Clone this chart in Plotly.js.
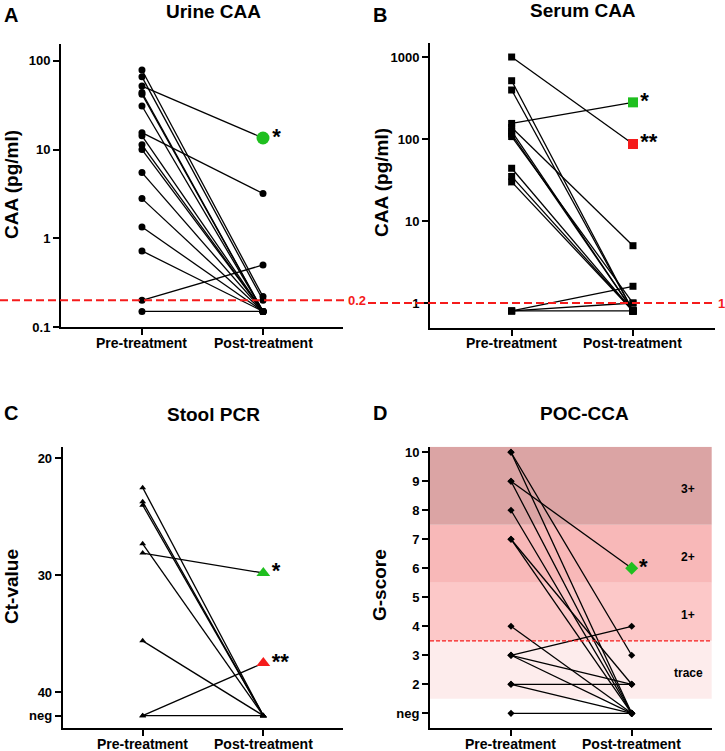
<!DOCTYPE html>
<html><head><meta charset="utf-8">
<script src="https://cdn.plot.ly/plotly-3.0.1.min.js"></script>
<style>html,body{margin:0;padding:0;background:#fff}</style>
</head><body><div id="chart" style="width:725px;height:751px"></div>
<script>
// ---------- DATA ----------
const groups = ["Pre-treatment", "Post-treatment"];

// A: Urine CAA (pg/ml)
const urinePre  = [79, 66, 52, 44, 42, 31, 15.5, 14.3, 11.3, 10, 5.5, 2.8, 1.34, 0.72, 0.2, 0.15];
const urinePost = [0.22, 0.2, 13.5, 0.15, 0.15, 0.15, 3.2, 0.15, 0.15, 0.15, 0.15, 0.15, 0.15, 0.15, 0.5, 0.15];
const urineStar = ["", "", "*", "", "", "", "", "", "", "", "", "", "", "", "", ""];
const urineCutoff = 0.2;
const urineTicks = [0.1, 1, 10, 100];
const urineTickText = ["0.1", "1", "10", "100"];

// B: Serum CAA (pg/ml)
const serumPre  = [1000, 514, 396, 155, 138, 125, 115, 107, 44, 35, 30, 0.8, 0.8, 0.8];
const serumPost = [87, 0.8, 0.8, 280, 5, 0.8, 0.8, 1.0, 0.8, 0.8, 0.8, 1.6, 1.0, 0.8];
const serumStar = ["**", "", "", "*", "", "", "", "", "", "", "", "", "", ""];
const serumCutoff = 1;
const serumTicks = [1, 10, 100, 1000];
const serumTickText = ["1", "10", "100", "1000"];

// C: Stool PCR (Ct-value), 42 = neg
const pcrPre  = [22.5, 23.7, 24.0, 27.3, 28.1, 35.6, 42, 42];
const pcrPost = [42, 42, 42, 42, 29.8, 42, 37.5, 42];
const pcrStar = ["", "", "", "", "*", "", "**", ""];
const pcrTicks = [20, 30, 40, 42];
const pcrTickText = ["20", "30", "40", "neg"];

// D: POC-CCA (G-score), 1 = neg
const pocPre  = [10, 10, 9, 9, 8, 7, 7, 4, 3, 3, 3, 2, 2, 1];
const pocPost = [3, 1, 6, 1, 1, 2, 1, 1, 4, 2, 1, 2, 1, 1];
const pocStar = ["", "", "*", "", "", "", "", "", "", "", "", "", "", ""];
const pocTicks = [1, 2, 3, 4, 5, 6, 7, 8, 9, 10];
const pocTickText = ["neg", "2", "3", "4", "5", "6", "7", "8", "9", "10"];
const pocCutoff = 3.5;
const pocBandEdges = [1.5, 3.5, 5.5, 7.5, 10.19];
const pocBandLabels = ["trace", "1+", "2+", "3+"];

// ---------- STYLE ----------
const W = 725, H = 751;
const FONT = "Liberation Sans, Arial, Helvetica, sans-serif";
const GREEN = "#1fbf1f", RED = "#f51b1b";
const starColor = {"*": GREEN, "**": RED};
const bandColors = ["#fdecec", "#fcc8c8", "#f8b8b8", "#dba4a4"];
const px = p => p / W;
const py = p => 1 - p / H;

function pairTrace(pre, post, xa, ya, symbol, size) {
  const x = [], y = [];
  pre.forEach((v, i) => { x.push(0, 1, null); y.push(v, post[i], null); });
  return {type: "scatter", mode: "lines+markers", x, y, xaxis: xa, yaxis: ya,
    line: {color: "#000", width: 1.3}, marker: {symbol, size, color: "#000"},
    hoverinfo: "skip", showlegend: false, cliponaxis: false, connectgaps: false};
}
function starTrace(post, stars, xa, ya, symbol, size) {
  const x = [], y = [], t = [], c = [];
  stars.forEach((s, i) => { if (s) { x.push(1); y.push(post[i]); t.push(s); c.push(starColor[s]); } });
  return {type: "scatter", mode: "markers+text", x, y, text: t, xaxis: xa, yaxis: ya,
    textposition: "middle right",
    textfont: {family: FONT, size: 22, color: "#000", weight: 700},
    marker: {symbol, size, color: c}, hoverinfo: "skip", showlegend: false, cliponaxis: false};
}

const traces = [
  pairTrace(urinePre, urinePost, "x", "y", "circle", 7),
  starTrace(urinePost, urineStar, "x", "y", "circle", 13),
  pairTrace(serumPre, serumPost, "x2", "y2", "square", 7),
  starTrace(serumPost, serumStar, "x2", "y2", "square", 10),
  pairTrace(pcrPre, pcrPost, "x3", "y3", "triangle-up", 6),
  starTrace(pcrPost, pcrStar, "x3", "y3", "triangle-up", 12),
  pairTrace(pocPre, pocPost, "x4", "y4", "diamond", 5.5),
  starTrace(pocPost, pocStar, "x4", "y4", "diamond", 10)
];

function xAxis(d0, d1, r, anchor) {
  return {domain: [px(d0), px(d1)], range: r, anchor, tickvals: [0, 1], ticktext: groups,
    showticklabels: false,
    showline: true, linewidth: 2, linecolor: "#000", ticks: "outside", ticklen: 6, tickwidth: 2,
    tickcolor: "#000", showgrid: false, zeroline: false, fixedrange: true};
}
function yAxis(top, bottom, r, anchor, type, tv, tt) {
  return {domain: [py(bottom), py(top)], range: r, type, anchor, tickvals: tv, ticktext: tt,
    showline: true, linewidth: 2, linecolor: "#000", ticks: "outside", ticklen: 6, tickwidth: 2,
    tickcolor: "#000", tickfont: {family: FONT, size: 13, color: "#000", weight: 700},
    showgrid: false, zeroline: false, fixedrange: true};
}

const shapes = [];
pocBandLabels.forEach((lab, i) => {
  shapes.push({type: "rect", layer: "below", xref: "x4 domain", x0: 0, x1: 1, yref: "y4",
    y0: pocBandEdges[i], y1: pocBandEdges[i + 1], fillcolor: bandColors[i], line: {width: 0}});
});
shapes.push({type: "line", xref: "paper", x0: 0, x1: px(345), yref: "y", y0: urineCutoff, y1: urineCutoff,
  line: {color: RED, width: 2, dash: "8px,4px"}});
shapes.push({type: "line", xref: "paper", x0: px(368), x1: px(714), yref: "y2", y0: serumCutoff, y1: serumCutoff,
  line: {color: RED, width: 2, dash: "8px,4px"}});
shapes.push({type: "line", xref: "x4 domain", x0: 0, x1: 1, yref: "y4", y0: pocCutoff, y1: pocCutoff,
  line: {color: RED, width: 1.2, dash: "4px,2px"}});

const ann = [];
function txt(text, x, y, size, opts) {
  ann.push(Object.assign({text, xref: "paper", yref: "paper", x: px(x), y: py(y), showarrow: false,
    xanchor: "center", yanchor: "middle", font: {family: FONT, size, color: "#000", weight: 700}}, opts || {}));
}
txt("A", 11, 14.5, 20); txt("B", 379.5, 14.5, 20); txt("C", 11, 413, 20); txt("D", 379.5, 413, 20);
txt("Urine CAA", 213, 12, 19); txt("Serum CAA", 583, 10, 19);
txt("Stool PCR", 213, 414, 19); txt("POC-CCA", 584, 413, 19);
txt("CAA (pg/ml)", 12, 185, 19, {textangle: -90});
txt("CAA (pg/ml)", 381, 183, 19, {textangle: -90});
txt("Ct-value", 11, 587, 19, {textangle: -90});
txt("G-score", 379, 585, 19, {textangle: -90});

// category labels under each x axis (positioned at category values)
[["x", 343], ["x2", 343.5], ["x3", 744], ["x4", 744]].forEach(([xr, yc]) => {
  groups.forEach((g, i) => {
    ann.push({text: g, xref: xr, x: i, xanchor: "center", yref: "paper", y: py(yc), yanchor: "middle",
      showarrow: false, font: {family: FONT, size: 14, color: "#000", weight: 700}});
  });
});

ann.push({text: String(urineCutoff), xref: "paper", x: px(346), xanchor: "left", yref: "y", y: Math.log10(urineCutoff),
  yanchor: "middle", showarrow: false, font: {family: FONT, size: 13, color: RED, weight: 700}});
ann.push({text: String(serumCutoff), xref: "paper", x: px(716), xanchor: "left", yref: "y2", y: Math.log10(serumCutoff),
  yanchor: "middle", showarrow: false, font: {family: FONT, size: 13, color: RED, weight: 700}});
pocBandLabels.forEach((lab, i) => {
  ann.push({text: lab, xref: "paper", x: px(688), xanchor: "center", yref: "y4",
    y: (pocBandEdges[i] + pocBandEdges[i + 1]) / 2, yshift: -3, yanchor: "middle", showarrow: false,
    font: {family: FONT, size: 12, color: "#000", weight: 700}});
});

const layout = {
  width: W, height: H, margin: {l: 0, r: 0, t: 0, b: 0},
  paper_bgcolor: "#fff", plot_bgcolor: "rgba(0,0,0,0)", showlegend: false,
  font: {family: FONT, color: "#000"},
  xaxis:  xAxis(61, 343, [-0.669, 1.661], "y"),
  yaxis:  yAxis(44, 327, [-1, 2.19], "x", "log", urineTicks, urineTickText),
  xaxis2: xAxis(430, 715, [-0.673, 1.676], "y2"),
  yaxis2: yAxis(43, 327.7, [-0.301, 3.171], "x2", "log", serumTicks, serumTickText),
  xaxis3: xAxis(62.7, 343.3, [-0.663, 1.663], "y3"),
  yaxis3: yAxis(446.7, 728.3, [43.08, 19.0], "x3", "linear", pcrTicks, pcrTickText),
  xaxis4: xAxis(430, 711.7, [-0.671, 1.663], "y4"),
  yaxis4: yAxis(446.7, 728.3, [0.483, 10.19], "x4", "linear", pocTicks, pocTickText),
  shapes, annotations: ann
};
Plotly.newPlot("chart", traces, layout, {displayModeBar: false, staticPlot: true});
</script></body></html>
